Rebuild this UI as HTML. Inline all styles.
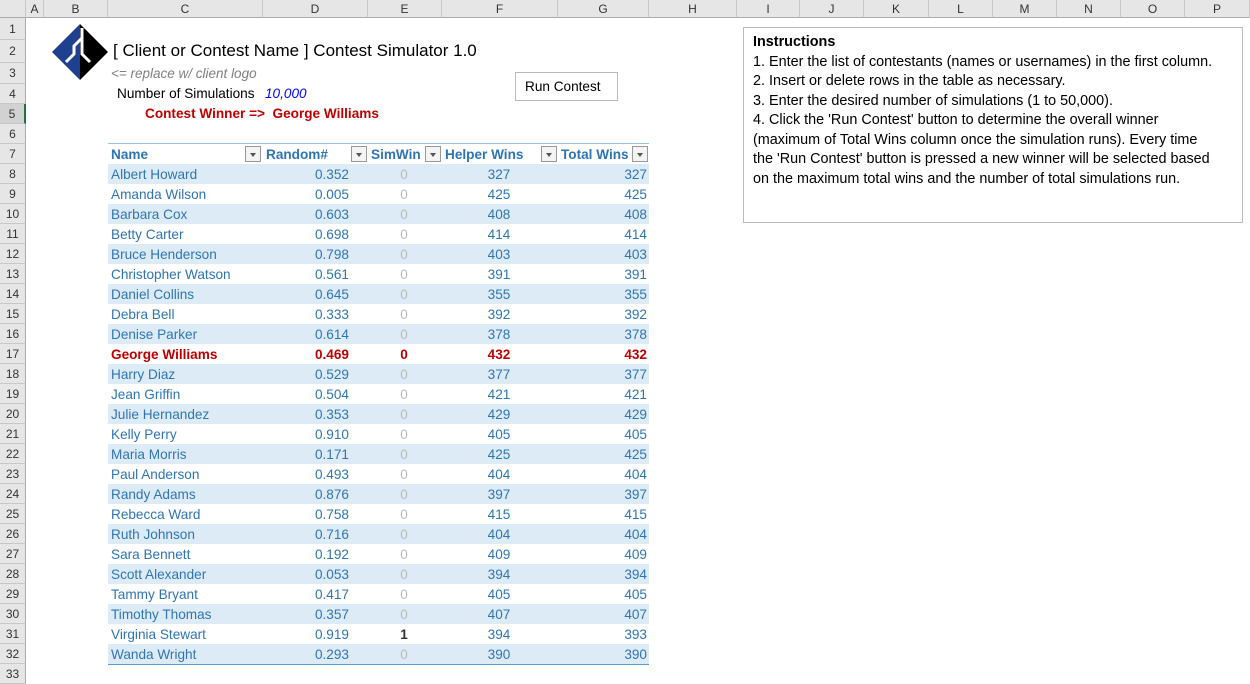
<!DOCTYPE html>
<html><head><meta charset="utf-8">
<style>
*{box-sizing:border-box;margin:0;padding:0}
body{width:1250px;height:681px;overflow:hidden;background:#fff;font-family:"Liberation Sans",Arial,sans-serif;font-size:14px;position:relative}
.abs{position:absolute;white-space:nowrap}
.colhdr{position:absolute;top:0;height:18px;background:#e6e6e6;border-right:1px solid #c8c8c8;border-bottom:1px solid #ababab;text-align:center;line-height:18px;font-size:12px;color:#333}
.rowhdr{position:absolute;left:0;width:26px;background:#e6e6e6;border-bottom:1px solid #c8c8c8;border-right:1px solid #ababab;text-align:center;font-size:12px;color:#333}
.cell{position:absolute;height:20px;line-height:21px;color:#2f75b5;white-space:nowrap;font-size:13.6px}
.dd{position:absolute;width:16px;height:16px;border:1px solid #999;background:#f4f4f4;top:146px}
.dd:after{content:"";position:absolute;left:4px;top:6px;border-left:3px solid transparent;border-right:3px solid transparent;border-top:4px solid #555}
</style></head><body>
<div id="grid"></div>

<svg class="abs" style="left:52px;top:24px" width="56" height="56" viewBox="0 0 56 56">
<polygon points="28,0 28,56 0,28" fill="#1f3f8f"/>
<polygon points="28,0 56,28 28,56" fill="#000"/>
<polyline points="14,38 22,30 22,22 30,14" fill="none" stroke="#fff" stroke-width="3"/>
<polyline points="30,4 30,30 38,38" fill="none" stroke="#fff" stroke-width="3"/>
</svg>
<div class="abs" style="left:113px;top:41px;font-size:17px;color:#000">[ Client or Contest Name ] Contest Simulator 1.0</div>
<div class="abs" style="left:111px;top:66px;font-size:13.5px;color:#808080;font-style:italic">&lt;= replace w/ client logo</div>
<div class="abs" style="left:117px;top:86px;color:#000;font-size:13.6px">Number of Simulations</div>
<div class="abs" style="left:265px;top:86px;color:#0000ff;font-style:italic;font-size:13.6px">10,000</div>
<div class="abs" style="left:145px;top:106px;color:#c00000;font-weight:bold;font-size:13.6px">Contest Winner =&gt;&nbsp; George Williams</div>
<div class="abs" style="left:515px;top:72px;width:103px;height:29px;border:1px solid #bbb;line-height:27px;padding-left:9px;color:#000;background:#fff;font-size:13.6px">Run Contest</div>

<div class="abs" style="left:743px;top:27px;width:500px;height:196px;border:1px solid #bbb;padding:5px 9px;line-height:19.5px;color:#000;white-space:normal;font-size:14.4px">
<b>Instructions</b><br>1. Enter the list of contestants (names or usernames) in the first column.<br>2. Insert or delete rows in the table as necessary.<br>3. Enter the desired number of simulations (1 to 50,000).<br>4. Click the 'Run Contest' button to determine the overall winner<br>(maximum of Total Wins column once the simulation runs). Every time<br>the 'Run Contest' button is pressed a new winner will be selected based<br>on the maximum total wins and the number of total simulations run.</div>

<div id="table"></div>

<script>
const names=["Albert Howard","Amanda Wilson","Barbara Cox","Betty Carter","Bruce Henderson","Christopher Watson","Daniel Collins","Debra Bell","Denise Parker","George Williams","Harry Diaz","Jean Griffin","Julie Hernandez","Kelly Perry","Maria Morris","Paul Anderson","Randy Adams","Rebecca Ward","Ruth Johnson","Sara Bennett","Scott Alexander","Tammy Bryant","Timothy Thomas","Virginia Stewart","Wanda Wright"];
const randoms=["0.352","0.005","0.603","0.698","0.798","0.561","0.645","0.333","0.614","0.469","0.529","0.504","0.353","0.910","0.171","0.493","0.876","0.758","0.716","0.192","0.053","0.417","0.357","0.919","0.293"];
const simWins=[0,0,0,0,0,0,0,0,0,0,0,0,0,0,0,0,0,0,0,0,0,0,0,1,0];
const helperWins=[327,425,408,414,403,391,355,392,378,432,377,421,429,405,425,404,397,415,404,409,394,405,407,394,390];
const totalWins=[327,425,408,414,403,391,355,392,378,432,377,421,429,405,425,404,397,415,404,409,394,405,407,393,390];
const winnerIndex=9;

const cols=["A","B","C","D","E","F","G","H","I","J","K","L","M","N","O","P"];
const colX=[26,44,108,263,368,442,558,649,737,800,864,929,993,1057,1121,1185,1250];
const grid=document.getElementById('grid');
function rowTop(n){ if(n===1) return 18; if(n===2) return 40; if(n===3) return 63; return 84+(n-4)*20; }
function rowH(n){ return rowTop(n+1)-rowTop(n); }
const corner=document.createElement('div');
corner.className='colhdr';corner.style.left='0px';corner.style.width='26px';


grid.appendChild(corner);
cols.forEach((c,i)=>{
  const d=document.createElement('div');
  d.className='colhdr';d.style.left=colX[i]+'px';d.style.width=(colX[i+1]-colX[i])+'px';d.textContent=c;
  
  
  grid.appendChild(d);
});
for(let n=1;n<=33;n++){
  const d=document.createElement('div');
  d.className='rowhdr';d.style.top=rowTop(n)+'px';d.style.height=rowH(n)+'px';d.style.lineHeight=rowH(n)+'px';d.textContent=n;
  if(n===5){d.style.borderRight='2px solid #217346';d.style.background='#d2d2d2';}
  
  
  grid.appendChild(d);
}

const tbl=document.getElementById('table');
const tL=108,tR=649;
function cell(txt,left,width,top,align,extra,name){
  const d=document.createElement('div');
  d.className='cell';d.style.left=left+'px';d.style.width=width+'px';d.style.top=top+'px';d.style.textAlign=align;
  if(align==='left')d.style.paddingLeft='3px'; else d.style.paddingRight='2px';
  Object.assign(d.style,extra||{});
  d.textContent=txt;
  
  
  tbl.appendChild(d);
  return d;
}
const hb=document.createElement('div');
hb.style.cssText='position:absolute;left:'+tL+'px;width:'+(tR-tL)+'px;top:143px;height:22px;border-top:1px solid #9bc2e6;border-bottom:1px solid #5b9bd5';


tbl.appendChild(hb);
const hdrs=[["Name",108,"name-header"],["Random#",263,"random-header"],["SimWin",368,"simwin-header"],["Helper Wins",442,"helper-wins-header"],["Total Wins",558,"total-wins-header"]];
hdrs.forEach(h=>{cell(h[0],h[1],150,144,'left',{fontWeight:'bold'},h[2]);});
[245,351,425,541,632].forEach((x,i)=>{
  const d=document.createElement('div');d.className='dd';d.style.left=x+'px';
  
  
  tbl.appendChild(d);
});
names.forEach((nm,i)=>{
  const top=164+i*20;
  const bg=document.createElement('div');
  bg.style.cssText='position:absolute;left:'+tL+'px;width:'+(tR-tL)+'px;top:'+top+'px;height:20px;background:'+(i%2===0?'#ddebf7':'#fff');
  
  
  tbl.appendChild(bg);
  const win=i===winnerIndex;
  const st=win?{color:'#c00000',fontWeight:'bold'}:{};
  cell(nm,108,155,top,'left',st,'name-cell');
  cell(randoms[i],263,88,top,'right',st,'random-cell');
  const sw=simWins[i];
  const ss=win?{color:'#c00000',fontWeight:'bold'}:(sw?{color:'#333',fontWeight:'bold'}:{color:'#bbb'});
  cell(String(sw),368,74,top,'center',ss,'simwin-cell');
  cell(String(helperWins[i]),442,116,top,'center',st,'helper-wins-cell');
  cell(String(totalWins[i]),558,91,top,'right',st,'total-wins-cell');
});
const bl=document.createElement('div');
bl.style.cssText='position:absolute;left:'+tL+'px;width:'+(tR-tL)+'px;top:'+(164+names.length*20)+'px;height:0;border-top:1px solid #5b9bd5';


tbl.appendChild(bl);
</script>
</body></html>
